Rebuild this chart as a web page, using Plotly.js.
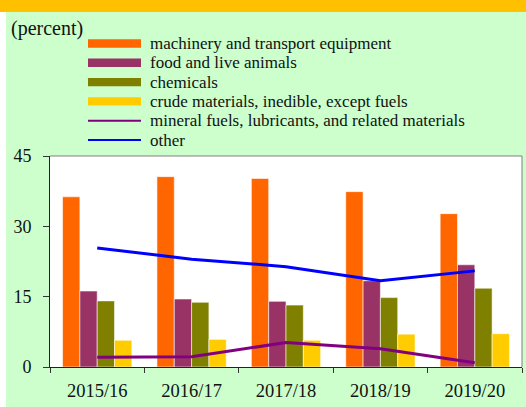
<!DOCTYPE html>
<html>
<head>
<meta charset="utf-8">
<script src="https://cdn.plot.ly/plotly-3.0.1.min.js"></script>
<style>html,body{margin:0;padding:0;background:#fff;}#chart{width:526px;height:407px;}</style>
</head>
<body>
<div id="chart"></div>
<script>
// ---- data ----
const years = ["2015/16", "2016/17", "2017/18", "2018/19", "2019/20"];
const machinery = [36.3, 40.6, 40.2, 37.4, 32.7];
const food = [16.2, 14.5, 14.0, 18.4, 21.8];
const chemicals = [14.1, 13.8, 13.2, 14.8, 16.8];
const crude = [5.7, 5.9, 5.7, 7.0, 7.1];
const mineral = [2.1, 2.2, 5.2, 3.9, 0.9];
const other = [25.4, 23.0, 21.4, 18.4, 20.5];
const yTicks = [0, 15, 30, 45];
const seriesNames = [
  "machinery and transport equipment",
  "food and live animals",
  "chemicals",
  "crude materials, inedible, except fuels",
  "mineral fuels, lubricants, and related materials",
  "other"
];

// ---- styling ----
const FONT = "Liberation Serif, Times New Roman, serif";
const colors = ["#ff6600", "#993366", "#808000", "#ffcc00", "#800080", "#0000ff"];
const W = 526, H = 407, ML = 50, MR = 4, MT = 156, MB = 40;
const PW = W - ML - MR, PH = H - MT - MB;
const px2x = px => (px - ML) / PW;
const py2y = py => (H - MB - py) / PH;

const barSeries = [machinery, food, chemicals, crude];
const traces = [];
barSeries.forEach((vals, i) => {
  traces.push({
    type: "bar", x: years, y: vals, name: seriesNames[i],
    marker: {color: colors[i], line: {color: "rgba(255,255,255,0.55)", width: 1}},
    showlegend: false, hoverinfo: "skip"
  });
});
[mineral, other].forEach((vals, j) => {
  traces.push({
    type: "scatter", mode: "lines", x: years, y: vals, name: seriesNames[4 + j],
    line: {color: colors[4 + j], width: 3}, showlegend: false, hoverinfo: "skip"
  });
});

const shapes = [
  {type: "rect", xref: "paper", yref: "paper", x0: px2x(0), x1: px2x(6), y0: py2y(H), y1: py2y(0),
   fillcolor: "#ffffff", line: {width: 0}, layer: "below"},
  {type: "rect", xref: "paper", yref: "paper", x0: px2x(0), x1: px2x(W), y0: py2y(12), y1: py2y(0),
   fillcolor: "#ffc000", line: {width: 0}, layer: "below"},
  {type: "line", xref: "paper", yref: "paper", x0: 0, x1: 1, y0: 1, y1: 1, line: {color: "#808080", width: 1}},
  {type: "line", xref: "paper", yref: "paper", x0: 1, x1: 1, y0: 0, y1: 1, line: {color: "#808080", width: 1}}
];
const annotations = [
  {xref: "paper", yref: "paper", x: px2x(9), y: py2y(28), xanchor: "left", yanchor: "middle",
   text: "(percent)", showarrow: false, font: {family: FONT, size: 20, color: "#111"}}
];
const rowY = [43.5, 62.8, 82.1, 101.4, 120.7, 140];
seriesNames.forEach((nm, i) => {
  const cy = rowY[i];
  if (i < 4) {
    shapes.push({type: "rect", xref: "paper", yref: "paper", x0: px2x(88), x1: px2x(141),
      y0: py2y(cy + 4.2), y1: py2y(cy - 4.2), fillcolor: colors[i], line: {width: 0}});
  } else {
    shapes.push({type: "line", xref: "paper", yref: "paper", x0: px2x(88), x1: px2x(141),
      y0: py2y(cy), y1: py2y(cy), line: {color: colors[i], width: 2}});
  }
  annotations.push({xref: "paper", yref: "paper", x: px2x(148), y: py2y(cy), xanchor: "left", yanchor: "middle",
    text: nm, showarrow: false, font: {family: FONT, size: 17, color: "#111"}});
});

const layout = {
  width: W, height: H,
  margin: {l: ML, r: MR, t: MT, b: MB, pad: 0},
  paper_bgcolor: "#ccffcc", plot_bgcolor: "#ffffff",
  font: {family: FONT, color: "#111"},
  barmode: "group", bargap: 0.266, bargroupgap: 0,
  showlegend: false,
  xaxis: {type: "category", tickson: "boundaries", ticks: "outside", ticklen: 5, tickcolor: "#333",
    showline: true, linecolor: "#222", linewidth: 1, showgrid: false, zeroline: false,
    ticklabelstandoff: 7,
    tickfont: {family: FONT, size: 18.5, color: "#111"}, fixedrange: true},
  yaxis: {range: [0, 45], tickvals: yTicks, ticktext: yTicks.map(String), ticks: "outside", ticklen: 6, tickcolor: "#333",
    showline: true, linecolor: "#222", linewidth: 1, showgrid: false, zeroline: false,
    ticklabelstandoff: 8, tickfont: {family: FONT, size: 18, color: "#111"}, fixedrange: true},
  shapes: shapes, annotations: annotations
};
Plotly.newPlot("chart", traces, layout, {displayModeBar: false, staticPlot: true});
</script>
</body>
</html>
